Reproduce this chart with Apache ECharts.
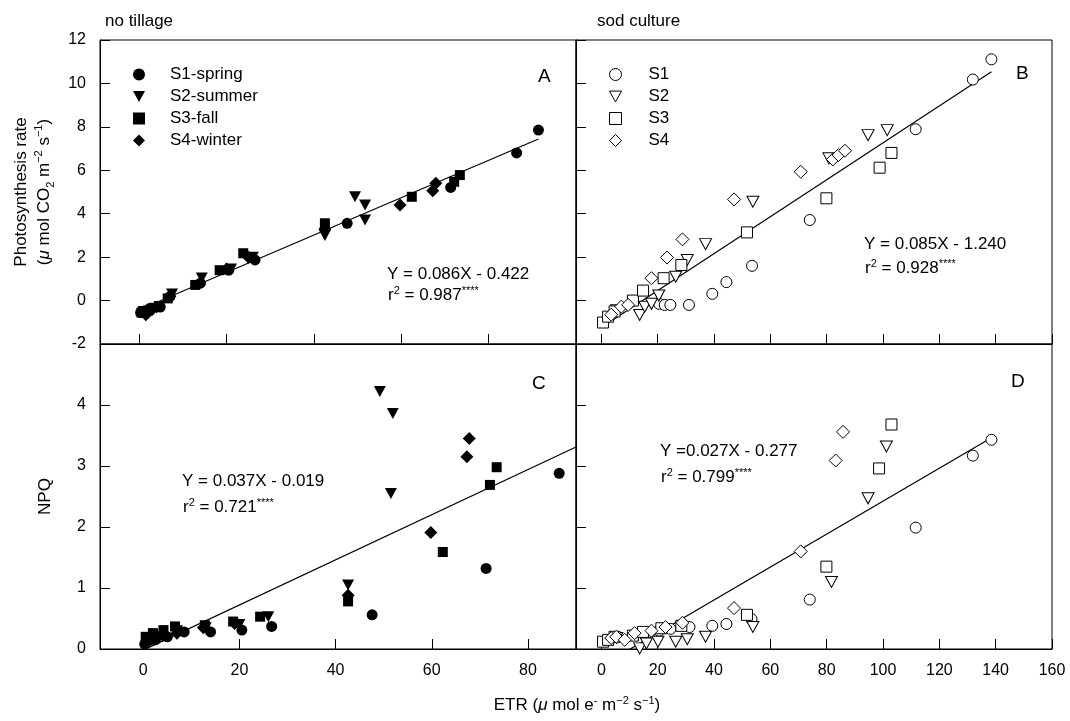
<!DOCTYPE html>
<html>
<head>
<meta charset="utf-8">
<script src="https://cdn.jsdelivr.net/npm/echarts@6/dist/echarts.min.js"></script>
<style>html,body{margin:0;padding:0;background:#fff;}#c{width:1070px;height:721px;}</style>
</head>
<body>
<div id="c"></div>
<script>
// ---------- DATA ----------
// No tillage, panel A: [ETR, photosynthesis rate]
const ntPnS1 = [[0.3,-0.55],[2.5,-0.35],[4.8,-0.3],[7,0.18],[14,0.8],[20.5,1.4],[26.5,1.87],[47.6,3.56],[71.3,5.21],[86.4,6.8],[91.4,7.85]];
const ntPnS2 = [[1,-0.5],[4,-0.35],[7.5,0.3],[14.3,1.04],[21,1.45],[26,2.0],[42.5,3.0],[49.4,4.78],[51.7,4.4],[51.7,3.71]];
const ntPnS3 = [[0.5,-0.55],[2,-0.45],[4.5,-0.25],[6.5,0.1],[12.8,0.72],[18.4,1.4],[23.8,2.18],[42.5,3.56],[62.4,4.78],[72.1,5.47],[73.4,5.78]];
const ntPnS4 = [[1.5,-0.65],[3,-0.4],[7,0.2],[20,1.45],[25,2.0],[42.5,3.3],[59.7,4.4],[67.2,5.06],[67.9,5.4]];
// No tillage, panel C: [ETR, NPQ]
const ntNpqS1 = [[0.3,0.08],[2.5,0.15],[5,0.2],[8.5,0.28],[14,0.28],[20.5,0.31],[26.7,0.37],[47.6,0.56],[71.3,1.32],[86.5,2.88]];
const ntNpqS2 = [[1,0.12],[4,0.2],[7,0.3],[13,0.35],[20,0.4],[26,0.53],[42.6,1.05],[49.2,4.22],[51.9,3.86],[51.5,2.55]];
const ntNpqS3 = [[0.5,0.2],[2,0.26],[4.2,0.31],[6.6,0.37],[12.8,0.39],[18.7,0.45],[24.3,0.53],[42.6,0.78],[62.3,1.59],[72.1,2.69],[73.5,2.98]];
const ntNpqS4 = [[1.5,0.15],[3,0.2],[7,0.26],[12.5,0.35],[19,0.42],[42.6,0.88],[59.8,1.91],[67.3,3.15],[67.8,3.45]];
// Sod culture, panel B: [ETR, photosynthesis rate]
const scPnS1 = [[20.5,-0.15],[22.5,-0.2],[24.5,-0.2],[31.1,-0.2],[39.4,0.31],[44.4,0.85],[53.5,1.6],[74,3.71],[111.6,7.89],[131.9,10.18],[138.5,11.11]];
const scPnS2 = [[5.5,-0.45],[13.6,-0.66],[15.4,-0.28],[17.8,-0.15],[20.4,0.23],[26.4,1.1],[30.5,1.87],[37,2.6],[53.8,4.55],[80.8,6.55],[94.7,7.62],[101.5,7.85]];
const scPnS3 = [[0.6,-1.01],[2.4,-0.74],[4.7,-0.5],[11.2,0],[14.8,0.46],[22.1,1.03],[28.4,1.64],[51.7,3.14],[79.9,4.71],[98.8,6.12],[103,6.8]];
const scPnS4 = [[3.5,-0.65],[7.1,-0.28],[9.5,-0.2],[17.8,1.03],[23.3,1.98],[28.8,2.82],[47.1,4.66],[70.8,5.93],[82.2,6.5],[84.2,6.7],[86.5,6.9]];
// Sod culture, panel D: [ETR, NPQ]
const scNpqS1 = [[20.5,0.3],[24.5,0.33],[31.3,0.36],[39.4,0.38],[44.4,0.41],[53.3,0.49],[74,0.81],[111.6,1.99],[131.9,3.17],[138.5,3.43]];
const scNpqS2 = [[5.5,0.18],[13.6,0.01],[16,0.09],[20.1,0.12],[26.4,0.12],[30.5,0.16],[37,0.2],[53.8,0.36],[81.7,1.1],[94.7,2.47],[101.2,3.32]];
const scNpqS3 = [[0.6,0.12],[2.4,0.15],[4.7,0.2],[11.2,0.22],[14.8,0.28],[21.3,0.34],[28.4,0.38],[51.7,0.56],[79.9,1.35],[98.6,2.96],[103,3.68]];
const scNpqS4 = [[3.5,0.18],[5.3,0.2],[8.3,0.15],[11.8,0.26],[17.8,0.3],[22.8,0.36],[28.8,0.43],[47.1,0.67],[70.8,1.6],[83.2,3.09],[85.8,3.56]];
// Regression lines: [slope, intercept, xStart, xEnd]
const fitA = [0.086, -0.422, 0, 91.4];
const fitB = [0.085, -1.240, 0, 138.5];
const fitC = [0.037, -0.019, 0, 90];
const fitD = [0.027, -0.277, 0, 138.5];
// Labels
const ntNames = ['S1-spring','S2-summer','S3-fall','S4-winter'];
const scNames = ['S1','S2','S3','S4'];
const eqA = ['Y = 0.086X - 0.422', '0.987'];
const eqB = ['Y = 0.085X - 1.240', '0.928'];
const eqC = ['Y = 0.037X - 0.019', '0.721'];
const eqD = ['Y =0.027X - 0.277', '0.799'];
const etrTicksLeft = [0,20,40,60,80];
const etrTicksRight = [0,20,40,60,80,100,120,140,160];
const pnTicks = [-2,0,2,4,6,8,10,12];
const npqTicks = [0,1,2,3,4];

// ---------- STYLE ----------
const FF = 'Liberation Sans, Arial, sans-serif';
const downTri = 'path://M0,0L10,0L5,9Z';
const symbols = [
  {symbol:'circle', size:11},
  {symbol:downTri, size:[12,11]},
  {symbol:'rect', size:10},
  {symbol:'diamond', size:13}
];
const hollowSymbols = [
  {symbol:'circle', size:11},
  {symbol:downTri, size:[12,11]},
  {symbol:'rect', size:11},
  {symbol:'diamond', size:13}
];

function xAx(gi, min, max, ticks, showLabel) {
  return {type:'value', gridIndex:gi, min:min, max:max,
    axisLine:{show:true, onZero:false, lineStyle:{color:'#000', width:1}},
    axisTick:{show:true, inside:true, length:10, customValues:ticks, lineStyle:{color:'#000', width:1}},
    axisLabel:{show:showLabel, customValues:ticks, color:'#000', fontSize:16, fontFamily:FF, margin:14},
    splitLine:{show:false}};
}
function yAx(gi, min, max, ticks, showLabel, name, nameGap, nameStyle) {
  const o = {type:'value', gridIndex:gi, min:min, max:max,
    axisLine:{show:true, onZero:false, lineStyle:{color:'#000', width:1}},
    axisTick:{show:true, inside:true, length:10, customValues:ticks, lineStyle:{color:'#000', width:1}},
    axisLabel:{show:showLabel, customValues:ticks, color:'#000', fontSize:16, fontFamily:FF, margin:14},
    splitLine:{show:false}};
  if (name) { o.name = name; o.nameLocation = 'middle'; o.nameGap = nameGap; o.nameTextStyle = nameStyle; }
  return o;
}

const richBase = {
  n:{fontSize:17, fontFamily:FF, color:'#000'},
  mu:{fontSize:17, fontFamily:FF, color:'#000', fontStyle:'italic'},
  sup:{fontSize:11, fontFamily:FF, color:'#000', verticalAlign:'top', lineHeight:20},
  sub:{fontSize:11, fontFamily:FF, color:'#000', verticalAlign:'bottom', lineHeight:20},
  st:{fontSize:11, fontFamily:FF, color:'#000', verticalAlign:'top', lineHeight:20}
};

function scat(name, data, xi, sym, hollow) {
  return {type:'scatter', name:name, xAxisIndex:xi, yAxisIndex:xi, data:data,
    symbol:sym.symbol, symbolSize:sym.size, symbolKeepAspect:false,
    itemStyle: hollow ? {color:'#fff', borderColor:'#000', borderWidth:1, opacity:1} : {color:'#000', borderWidth:0, opacity:1},
    emphasis:{disabled:true}, z:3};
}
function fitLine(fit, xi) {
  const y = x => fit[0]*x + fit[1];
  return {type:'line', xAxisIndex:xi, yAxisIndex:xi, data:[[fit[2], y(fit[2])],[fit[3], y(fit[3])]],
    symbol:'none', silent:true, lineStyle:{color:'#000', width:1.2}, z:2, clip:true};
}
function txt(text, left, top, size) {
  return {text:text, left:left, top:top, textStyle:{fontSize:size||17, fontWeight:'normal', fontFamily:FF, color:'#000', rich:richBase}};
}
function r2(val) { return '{n|r}{sup|2}{n| = ' + val + '}{st|****}'; }
function legendData(names, syms) {
  return names.map((n, i) => ({name:n, icon: syms[i].symbol}));
}

const ntSets = [ntPnS1, ntPnS2, ntPnS3, ntPnS4];
const ntNpq = [ntNpqS1, ntNpqS2, ntNpqS3, ntNpqS4];
const scSets = [scPnS1, scPnS2, scPnS3, scPnS4];
const scNpq = [scNpqS1, scNpqS2, scNpqS3, scNpqS4];

const series = [];
for (let i = 0; i < 4; i++) {
  series.push(scat(ntNames[i], ntSets[i], 0, symbols[i], false));
  series.push(scat(scNames[i], scSets[i], 1, hollowSymbols[i], true));
  series.push(scat(ntNames[i], ntNpq[i], 2, symbols[i], false));
  series.push(scat(scNames[i], scNpq[i], 3, hollowSymbols[i], true));
}
series.push(fitLine(fitA, 0), fitLine(fitB, 1), fitLine(fitC, 2), fitLine(fitD, 3));

const option = {
  animation:false,
  backgroundColor:'#fff',
  grid:[
    {left:100, top:40, width:476, height:304, show:true, borderColor:'#000', borderWidth:1},
    {left:576, top:40, width:476, height:304, show:true, borderColor:'#000', borderWidth:1},
    {left:100, top:344, width:476, height:305, show:true, borderColor:'#000', borderWidth:1},
    {left:576, top:344, width:476, height:305, show:true, borderColor:'#000', borderWidth:1}
  ],
  xAxis:[
    xAx(0, -9, 100, etrTicksLeft, false),
    xAx(1, -9, 160, etrTicksRight, false),
    xAx(2, -9, 90, etrTicksLeft, true),
    xAx(3, -9, 160, etrTicksRight, true)
  ],
  yAxis:[
    yAx(0, -2, 12, pnTicks, true,
      '{n|Photosynthesis rate}\n{n|(}{mu|μ}{n| mol CO}{sub|2}{n| m}{sup|−2}{n| s}{sup|−1}{n|)}', 44,
      {rich:richBase, lineHeight:23, color:'#000'}),
    yAx(1, -2, 12, pnTicks, false),
    yAx(2, 0, 5, npqTicks, true, '{n|NPQ}', 46, {rich:richBase, color:'#000'}),
    yAx(3, 0, 5, npqTicks, false)
  ],
  legend:[
    {data:legendData(ntNames, symbols), orient:'vertical', left:128, top:61, itemWidth:12, itemHeight:12, itemGap:5,
     itemStyle:{color:'#000', borderWidth:0},
     textStyle:{fontSize:17, fontFamily:FF, color:'#000', padding:[0,0,0,20]}, selectedMode:false},
    {data:legendData(scNames, hollowSymbols), orient:'vertical', left:604, top:61, itemWidth:12, itemHeight:12, itemGap:5,
     itemStyle:{color:'#fff', borderColor:'#000', borderWidth:1},
     textStyle:{fontSize:17, fontFamily:FF, color:'#000', padding:[0,0,0,22]}, selectedMode:false}
  ],
  title:[
    txt('no tillage', 100, 8),
    txt('sod culture', 592, 8),
    txt('A', 533, 62, 19),
    txt('B', 1011, 59, 19),
    txt('C', 527, 369, 19),
    txt('D', 1006, 367, 19),
    txt('{n|' + eqA[0] + '}', 382, 261), txt(r2(eqA[1]), 383, 280),
    txt('{n|' + eqB[0] + '}', 859, 231), txt(r2(eqB[1]), 860, 253),
    txt('{n|' + eqC[0] + '}', 177, 468), txt(r2(eqC[1]), 178, 492),
    txt('{n|' + eqD[0] + '}', 655, 438), txt(r2(eqD[1]), 656, 462),
    {text:'{n|ETR (}{mu|μ}{n| mol e}{sup|-}{n| m}{sup|−2}{n| s}{sup|−1}{n|)}', left:572, top:690, textAlign:'center',
     textStyle:{fontWeight:'normal', rich:richBase}}
  ],
  series:series
};
const chart = echarts.init(document.getElementById('c'), null, {renderer:'canvas'});
chart.setOption(option);
</script>
</body>
</html>
